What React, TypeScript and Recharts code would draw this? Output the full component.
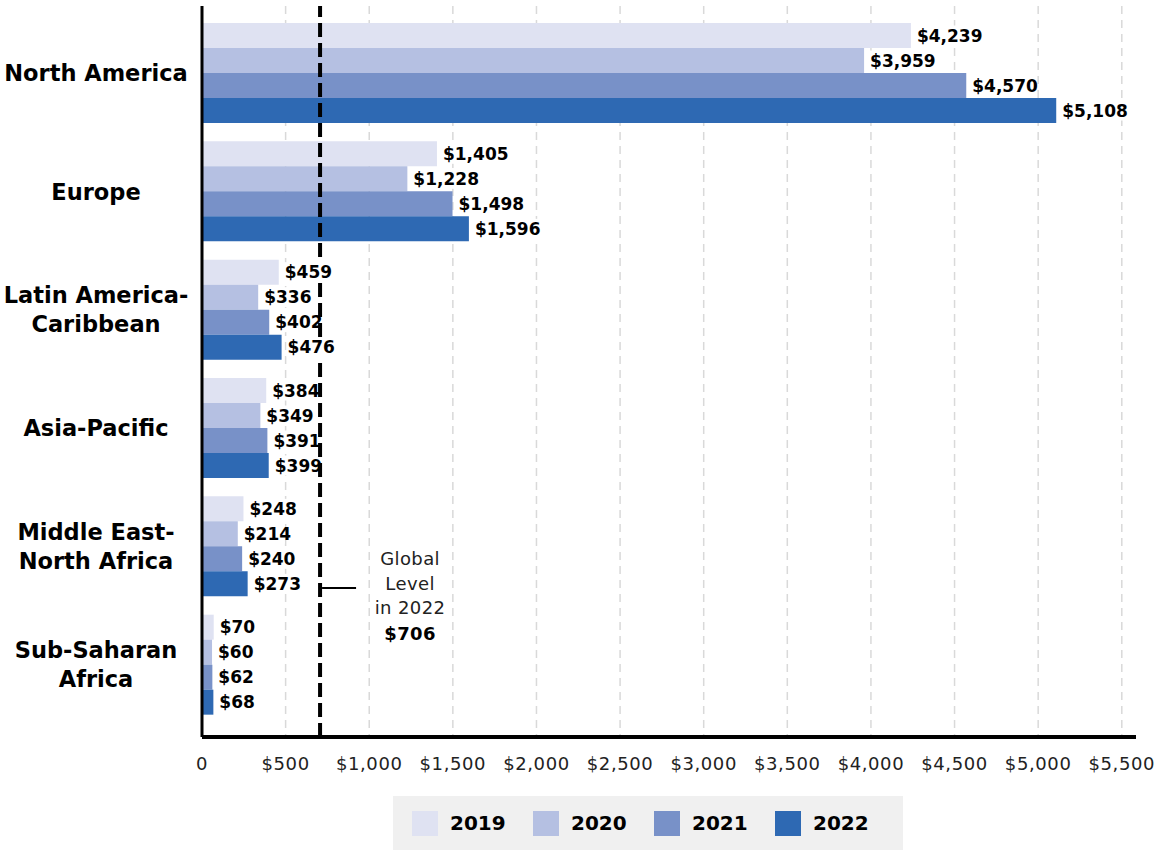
import { Bar, BarChart, CartesianGrid, LabelList, ReferenceLine, XAxis, YAxis } from "recharts";

const regions = [
  "North America",
  "Europe",
  "Latin America-\nCaribbean",
  "Asia-Pacific",
  "Middle East-\nNorth Africa",
  "Sub-Saharan\nAfrica",
];
const y2019 = [4239, 1405, 459, 384, 248, 70];
const y2020 = [3959, 1228, 336, 349, 214, 60];
const y2021 = [4570, 1498, 402, 391, 240, 62];
const y2022 = [5108, 1596, 476, 399, 273, 68];
const xTicks = [0, 500, 1000, 1500, 2000, 2500, 3000, 3500, 4000, 4500, 5000, 5500];
const xMax = 5585;
const globalLevel = 706;

const series = [
  { key: "y2019", name: "2019", color: "#DFE2F2" },
  { key: "y2020", name: "2020", color: "#B5C0E2" },
  { key: "y2021", name: "2021", color: "#7891C8" },
  { key: "y2022", name: "2022", color: "#2E69B3" },
];

const data = regions.map((region, i) => ({
  region,
  y2019: y2019[i],
  y2020: y2020[i],
  y2021: y2021[i],
  y2022: y2022[i],
}));

const FONT = "'DejaVu Sans', sans-serif";
const money = (v: number) => `$${Number(v).toLocaleString("en-US")}`;

function RegionTick({ y, payload }: any) {
  const lines = String(payload.value).split("\n");
  const start = -((lines.length - 1) * 29) / 2;
  return (
    <text
      x={96}
      y={y}
      textAnchor="middle"
      fontFamily={FONT}
      fontWeight="bold"
      fontSize={22.5}
      fill="#000"
    >
      {lines.map((l, i) => (
        <tspan key={i} x={96} dy={i === 0 ? start + 8 : 29}>
          {l}
        </tspan>
      ))}
    </text>
  );
}

// value label with a white box so it sits on top of the reference line
function ValueLabel(props: any) {
  const { x, y, width, height, value } = props;
  const txt = money(value);
  const lx = x + width + 6;
  const cy = y + height / 2;
  const w = txt.length * 11 - 2;
  return (
    <g>
      <rect x={lx - 1} y={cy - 10} width={w} height={20} fill="#fff" />
      <text
        x={lx}
        y={cy}
        dy="0.36em"
        fontFamily={FONT}
        fontSize={17}
        fontWeight="bold"
        fill="#000"
      >
        {txt}
      </text>
    </g>
  );
}

function GlobalNote({ viewBox }: any) {
  if (!viewBox) return null;
  const x = viewBox.x;
  const top = viewBox.y;
  const cx = x + 90;
  return (
    <g fontFamily={FONT} fontSize={18} letterSpacing={0.4} fill="#222" textAnchor="middle">
      <line x1={x + 2} x2={x + 36} y1={top + 582} y2={top + 582} stroke="#000" strokeWidth={2} />
      <text x={cx} y={top + 559}>Global</text>
      <text x={cx} y={top + 584}>Level</text>
      <text x={cx} y={top + 608}>in 2022</text>
      <text x={cx} y={top + 634} fontWeight="bold" fill="#000">
        {money(globalLevel)}
      </text>
    </g>
  );
}

export default function App() {
  return (
    <div style={{ position: "absolute", left: 0, top: 0, width: 1155, height: 850, background: "#fff" }}>
      <BarChart
        width={1155}
        height={790}
        data={data}
        layout="vertical"
        barSize={25}
        barGap={0}
        margin={{ top: 6, right: 19, left: 0, bottom: 0 }}
      >
        <CartesianGrid
          horizontal={false}
          stroke="#d9d9d9"
          strokeDasharray="8 6"
          strokeWidth={1.5}
          verticalCoordinatesGenerator={({ offset }: any) =>
            xTicks.map((t) => offset.left + (t / xMax) * offset.width)
          }
        />
        <XAxis
          type="number"
          domain={[0, xMax]}
          ticks={xTicks}
          interval={0}
          allowDataOverflow
          height={53}
          axisLine={{ stroke: "#000", strokeWidth: 4 }}
          tickLine={false}
          tickMargin={14}
          tick={{ fontFamily: FONT, fontSize: 18, letterSpacing: 0.6, fill: "#222" }}
          tickFormatter={(v: number) => (v === 0 ? "0" : money(v))}
        />
        <YAxis
          type="category"
          dataKey="region"
          width={202}
          padding={{ top: 8, bottom: 13 }}
          axisLine={{ stroke: "#000", strokeWidth: 3 }}
          tickLine={false}
          interval={0}
          tick={<RegionTick />}
        />
        <ReferenceLine
          x={globalLevel}
          stroke="#000"
          strokeWidth={4}
          strokeDasharray="14 6"
          label={(props: any) => <GlobalNote viewBox={props.viewBox} />}
        />
        {series.map((s) => (
          <Bar key={s.key} dataKey={s.key} name={s.name} fill={s.color} isAnimationActive={false}>
            <LabelList dataKey={s.key} content={<ValueLabel />} />
          </Bar>
        ))}
      </BarChart>
      <div
        style={{
          position: "absolute",
          left: 393,
          top: 796,
          width: 510,
          height: 54,
          background: "#f0f0f0",
          display: "flex",
          alignItems: "center",
          paddingLeft: 19,
          boxSizing: "border-box",
          fontFamily: FONT,
        }}
      >
        {series.map((s) => (
          <div key={s.key} style={{ width: 121, display: "flex", alignItems: "center" }}>
            <span style={{ width: 26, height: 25, background: s.color, display: "inline-block" }} />
            <span style={{ marginLeft: 12, fontWeight: "bold", fontSize: 20, color: "#000" }}>{s.name}</span>
          </div>
        ))}
      </div>
    </div>
  );
}
